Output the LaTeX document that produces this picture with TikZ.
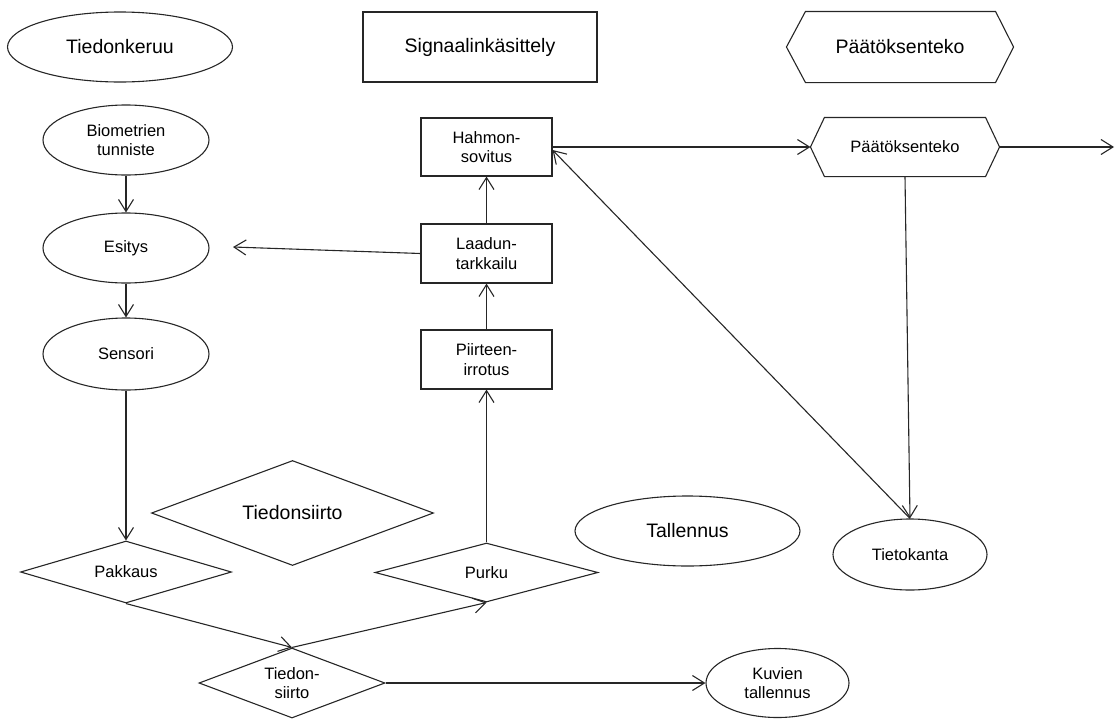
\documentclass[tikz,border=0pt]{standalone}
\usepackage{fontspec}
\setmainfont{Liberation Sans}
\usetikzlibrary{shapes.geometric,arrows.meta}
\definecolor{ln}{gray}{0.15}
\begin{document}
\begin{tikzpicture}[x=1pt,y=-1pt, line width=1.1pt,
  big/.style={font=\fontsize{19.5}{23}\selectfont},
  small/.style={font=\fontsize{16.5}{19.5}\selectfont, align=center},
  ell/.style={ellipse, draw=ln, inner sep=0pt},
  box/.style={rectangle, draw=ln, inner sep=0pt},
  dia/.style={diamond, draw=ln, inner sep=0pt},
  hexa/.style={rectangle, inner sep=0pt},
  hexline/.style={draw=ln},
  arr/.style={draw=ln, -{Straight Barb[length=12pt,width=15pt]}}
]
\useasboundingbox (0,0) rectangle (1117,718);

% headings
\node[ell, big, minimum width=225pt, minimum height=70pt] (hk) at (120,47) {Tiedonkeruu};
\node[box, big, minimum width=234pt, minimum height=70pt] (hs) at (480,47) {Signaalinkäsittely};
\node[hexa, big, minimum width=226pt, minimum height=70pt] (hp) at (900,47) {Päätöksenteko};
\draw[hexline] (hp.west) -- ([xshift=19pt]hp.north west) -- ([xshift=-18pt]hp.north east) -- (hp.east)
      -- ([xshift=-18pt]hp.south east) -- ([xshift=19pt]hp.south west) -- cycle;
\node[dia, big, aspect=2.7, minimum width=282pt, minimum height=105pt] (ht) at (292.5,513) {Tiedonsiirto};
\node[ell, big, minimum width=225pt, minimum height=70pt] (tal) at (687.5,531) {Tallennus};

% left column
\node[ell, small, minimum width=166pt, minimum height=70pt] (bio) at (126,140) {Biometrien\\tunniste};
\node[ell, small, minimum width=166pt, minimum height=70pt] (esi) at (126,248) {Esitys};
\node[ell, small, minimum width=166pt, minimum height=72pt] (sen) at (126,354) {Sensori};
\node[dia, small, aspect=3.4, minimum width=211pt, minimum height=62pt] (pak) at (126,572) {Pakkaus};
\node[dia, small, aspect=2.66, minimum width=186pt, minimum height=70pt] (tds) at (292,683) {Tiedon-\\siirto};

% middle column
\node[dia, small, aspect=3.78, minimum width=223pt, minimum height=59pt] (pur) at (486.5,572.5) {Purku};
\node[box, small, minimum width=131pt, minimum height=59pt] (pii) at (486.5,359.5) {Piirteen-\\irrotus};
\node[box, small, minimum width=131pt, minimum height=59pt] (laa) at (486.5,253.5) {Laadun-\\tarkkailu};
\node[box, small, minimum width=131pt, minimum height=58pt] (hah) at (486.5,147) {Hahmon-\\sovitus};

% right column
\node[hexa, small, minimum width=188pt, minimum height=58pt] (pd) at (905,147) {Päätöksenteko};
\draw[hexline] (pd.west) -- ([xshift=14pt]pd.north west) -- ([xshift=-14pt]pd.north east) -- (pd.east)
      -- ([xshift=-14pt]pd.south east) -- ([xshift=14pt]pd.south west) -- cycle;
\node[ell, small, minimum width=154pt, minimum height=71pt] (tk) at (910,554.5) {Tietokanta};
\node[ell, small, minimum width=143pt, minimum height=69pt] (kuv) at (777.5,683) {Kuvien\\tallennus};

% free ends
\coordinate (esiend) at (233,247);
\coordinate (out) at (1114,147);

% connectors
\draw[arr] (bio.south) -- (esi.north);
\draw[arr] (esi.south) -- (sen.north);
\draw[arr] (sen.south) -- (pak.north);
\draw[arr] (pak.south) -- (tds.north);
\draw[arr] (tds.north) -- (pur.south);
\draw[arr] (pur.north) -- (pii.south);
\draw[arr] (pii.north) -- (laa.south);
\draw[arr] (laa.north) -- (hah.south);
\draw[arr] (laa.west) -- (esiend);
\draw[arr] (hah.east) -- (pd.west);
\draw[arr] (tk.north) -- ([yshift=-3pt]hah.east);
\draw[arr] (pd.south) -- (tk.north);
\draw[arr] (pd.east) -- (out);
\draw[arr] (tds.east) -- (kuv.west);
\end{tikzpicture}
\end{document}
